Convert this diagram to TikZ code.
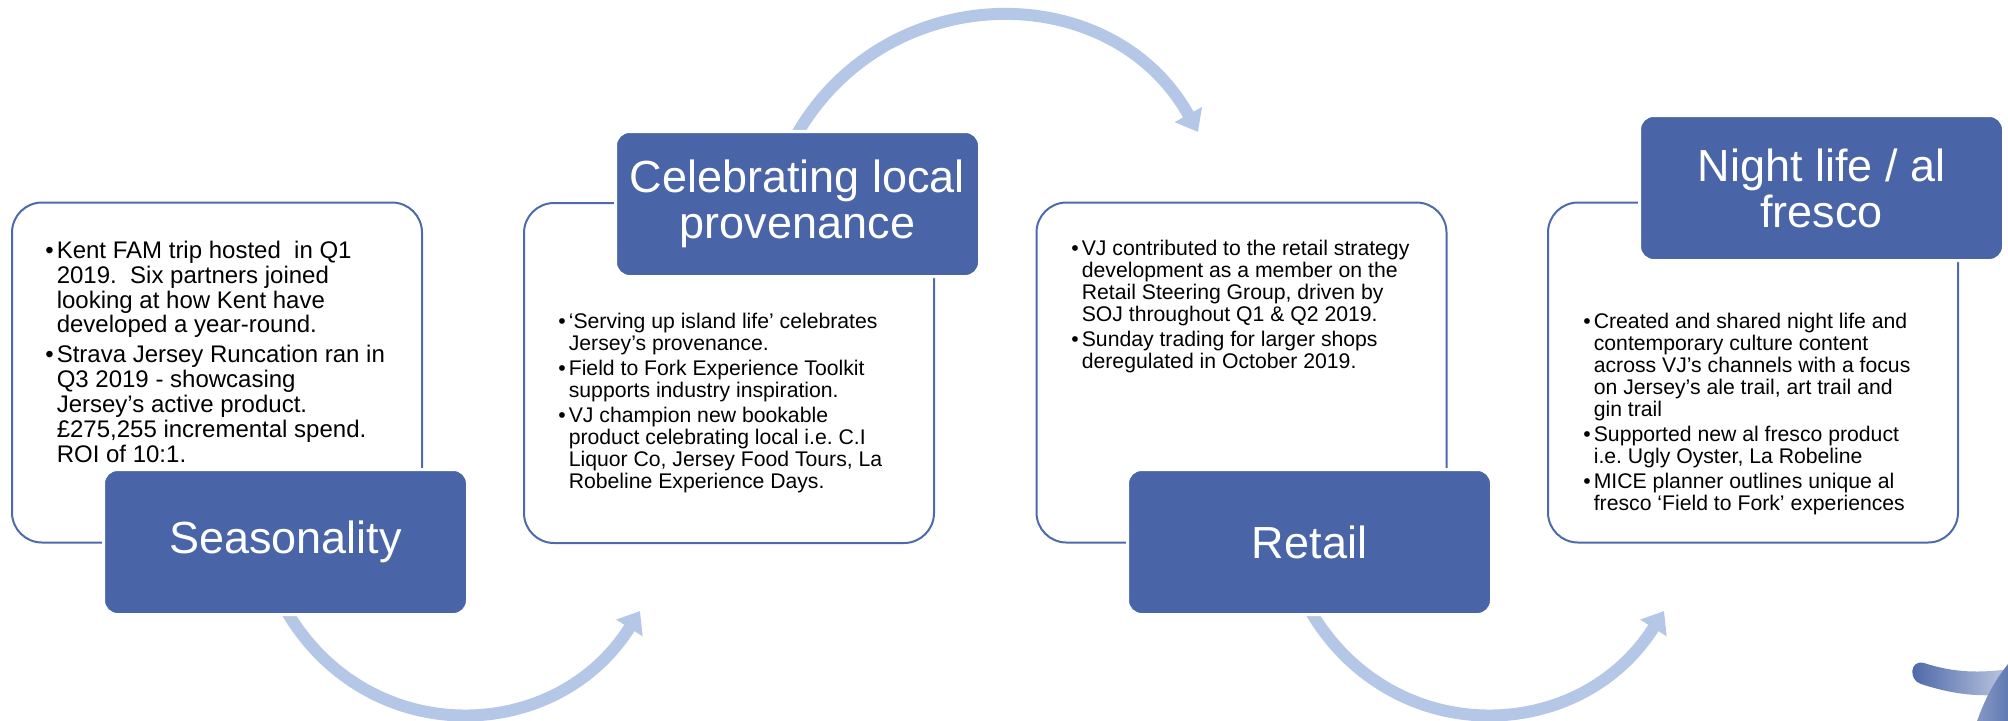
\documentclass[tikz,border=0pt]{standalone}
\usepackage{fontspec}
\setmainfont{Liberation Sans}
\usetikzlibrary{positioning,arrows.meta,backgrounds}

\definecolor{vjblue}{RGB}{73,101,167}
\definecolor{panelblue}{RGB}{78,106,172}
\definecolor{arrowblue}{RGB}{180,199,231}

\frenchspacing

\begin{document}
\begin{tikzpicture}[x=0.5pt, y=-0.5pt,
        panel/.style={draw=panelblue, line width=1pt, rounded corners=15pt,
            minimum width=205pt, minimum height=170pt, inner sep=0pt},
        heading/.style={fill=vjblue, draw=white, line width=1.5pt, rounded corners=7pt,
            minimum width=182pt, minimum height=72.5pt, inner sep=0pt,
            text=white, align=center, font=\fontsize{22.5}{23}\selectfont},
        bullets/.style={anchor=north west, inner sep=0pt, align=left},
        loop arrow/.style={draw=arrowblue, line width=6pt,
            -{Triangle[length=10pt,width=15pt]}}]

    \useasboundingbox (0,0) rectangle (2008,720);

    \node[panel] (seasonbox) at (217,372.5) {};
    \node[panel] (provbox)   at (729,373)   {};
    \node[panel] (retailbox) at (1241.5,372.5) {};
    \node[panel] (nightbox)  at (1753,372.5) {};

    \node[bullets, font=\fontsize{12}{12.4}\selectfont] (seasonlist) at (45,240.6) {%
        \begin{tabular}{@{}l@{\hspace{1.5pt}}l@{}}
        \textbullet & Kent FAM trip hosted\ \ in Q1\\
                    & 2019.\ \ Six partners joined\\
                    & looking at how Kent have\\
                    & developed a year-round.\\[2.5pt]
        \textbullet & Strava Jersey Runcation ran in\\
                    & Q3 2019 - showcasing\\
                    & Jersey’s active product.\\
                    & £275,255 incremental spend.\\
                    & ROI of 10:1.
        \end{tabular}};

    \node[bullets, font=\fontsize{10.6}{11}\selectfont] (provlist) at (558,312.6) {%
        \begin{tabular}{@{}l@{\hspace{1.5pt}}l@{}}
        \textbullet & ‘Serving up island life’ celebrates\\
                    & Jersey’s provenance.\\[1.5pt]
        \textbullet & Field to Fork Experience Toolkit\\
                    & supports industry inspiration.\\[1.5pt]
        \textbullet & VJ champion new bookable\\
                    & product celebrating local i.e. C.I\\
                    & Liquor Co, Jersey Food Tours, La\\
                    & Robeline Experience Days.
        \end{tabular}};

    \node[bullets, font=\fontsize{10.6}{11}\selectfont] (retaillist) at (1071,239.6) {%
        \begin{tabular}{@{}l@{\hspace{1.5pt}}l@{}}
        \textbullet & VJ contributed to the retail strategy\\
                    & development as a member on the\\
                    & Retail Steering Group, driven by\\
                    & SOJ throughout Q1 \& Q2 2019.\\[1.5pt]
        \textbullet & Sunday trading for larger shops\\
                    & deregulated in October 2019.
        \end{tabular}};

    \node[bullets, font=\fontsize{10.6}{11}\selectfont] (nightlist) at (1583,312.6) {%
        \begin{tabular}{@{}l@{\hspace{1.5pt}}l@{}}
        \textbullet & Created and shared night life and\\
                    & contemporary culture content\\
                    & across VJ’s channels with a focus\\
                    & on Jersey’s ale trail, art trail and\\
                    & gin trail\\[1.5pt]
        \textbullet & Supported new al fresco product\\
                    & i.e. Ugly Oyster, La Robeline\\[1.5pt]
        \textbullet & MICE planner outlines unique al\\
                    & fresco ‘Field to Fork’ experiences
        \end{tabular}};

    \node[heading] (season) at (285.5,542)  {Seasonality};
    \node[heading] (prov)   at (797.5,204)  {Celebrating local\\provenance};
    \node[heading] (retail) at (1309.5,542) {Retail};
    \node[heading] (night)  at (1821.5,188) {Night life / al\\fresco};

    \coordinate (provtip)   at (640,611);
    \coordinate (retailtip) at (1198,132);
    \coordinate (nighttip)  at (1664,611);

    \begin{scope}[on background layer]
        \draw[loop arrow] ([xshift=92.5pt,yshift=2pt]season.south west)
            .. controls (369,750) and (556,745) .. (provtip);
        \draw[loop arrow] ([xshift=91.5pt,yshift=-2pt]prov.north west)
            .. controls (888,-23) and (1112,-23) .. (retailtip);
        \draw[loop arrow] ([xshift=92.5pt,yshift=2pt]retail.south west)
            .. controls (1393,750) and (1580,745) .. (nighttip);
    \end{scope}

    % corner swoosh
    \shade[left color=vjblue, middle color=vjblue, right color=vjblue!35]
        (1924,663) .. controls (1955,673) and (1980,673) .. (2010,669)
        -- (2010,694) .. controls (1980,697) and (1955,695) .. (1921,684)
        .. controls (1908,680) and (1910,659) .. (1924,663) -- cycle;
    \shade[left color=vjblue!65, right color=vjblue]
        (1974,730) .. controls (1982,705) and (1992,684) .. (2008,664)
        -- (2030,660) -- (2030,730) -- cycle;

\end{tikzpicture}
\end{document}
